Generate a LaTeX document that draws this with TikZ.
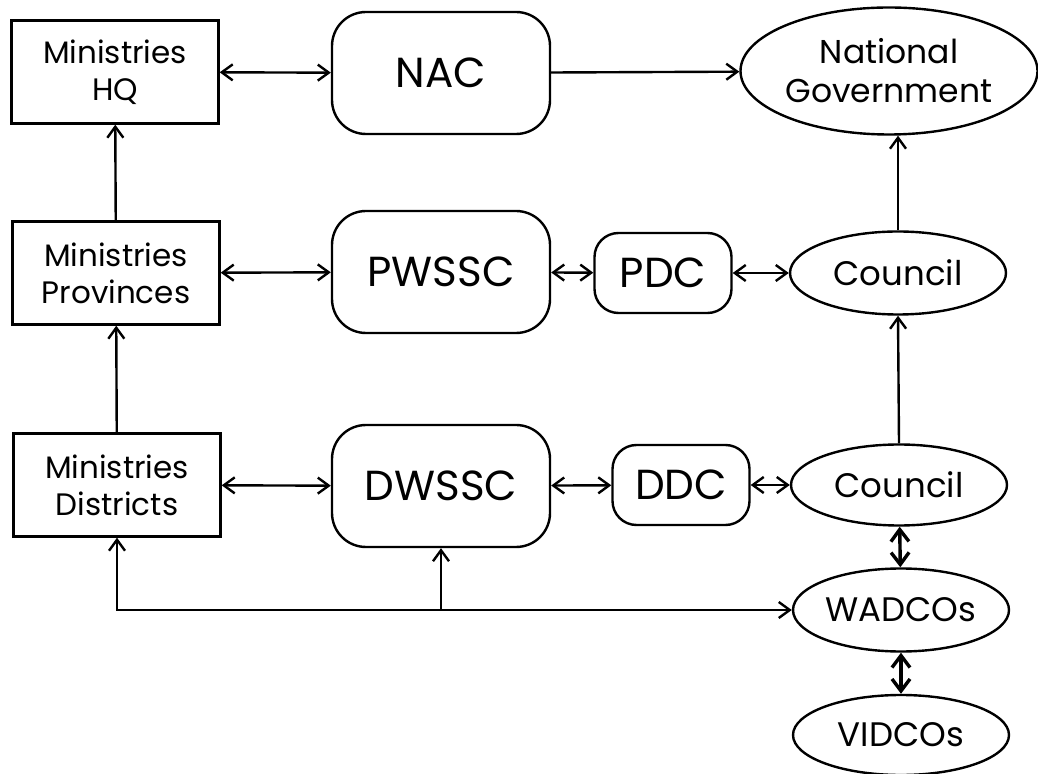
\documentclass[tikz,border=0pt]{standalone}
\usepackage{fontspec}
\setmainfont{Poppins}
\usetikzlibrary{positioning, arrows.meta, shapes.geometric}

\begin{document}
\begin{tikzpicture}[
    x=0.5pt, y=-0.5pt,
    every node/.style={align=center, line width=1.2pt, inner sep=0pt},
    minbox/.style={draw, rectangle, minimum width=103.5pt, minimum height=51.5pt, font=\fontsize{15.5}{18.5}\selectfont},
    cmtbox/.style={draw, rectangle, rounded corners=17pt, minimum width=109pt, minimum height=61pt, font=\fontsize{21}{24}\selectfont},
    devbox/.style={draw, rectangle, rounded corners=12pt, minimum width=68.5pt, minimum height=40pt, font=\fontsize{21}{24}\selectfont},
    govell/.style={draw, ellipse, minimum width=108pt, minimum height=41.5pt, font=\fontsize{17}{20}\selectfont},
    link/.style={line width=1.2pt, -{Straight Barb[length=5.5pt, width=8pt]}},
    duallink/.style={line width=1.2pt, {Straight Barb[length=5.5pt, width=8pt]}-{Straight Barb[length=5.5pt, width=8pt]}},
    heavylink/.style={line width=1.7pt, {Straight Barb[length=6pt, width=9pt]}-{Straight Barb[length=6pt, width=9pt]}}
]
\useasboundingbox (0,0) rectangle (1038,774);

% ============================
% Ministries (left column)
% ============================
\node[minbox] (hq)   at (115, 72)  {Ministries\\HQ};
\node[minbox] (prov) at (116, 273) {Ministries\\Provinces};
\node[minbox] (dist) at (117, 485) {Ministries\\Districts};

% ============================
% Committees (middle)
% ============================
\node[cmtbox] (nac)   at (441, 73)  {NAC};
\node[cmtbox] (pwssc) at (441, 272) {PWSSC};
\node[cmtbox] (dwssc) at (441, 486) {DWSSC};
\node[devbox] (pdc)   at (663, 273) {PDC};
\node[devbox] (ddc)   at (681, 485) {DDC};

% ============================
% Government & councils (right)
% ============================
\node[govell, minimum width=148.5pt, minimum height=63.5pt, font=\fontsize{16.5}{19.5}\selectfont] (natgov) at (889, 71) {National\\Government};
\node[govell] (pcouncil) at (898, 273) {Council};
\node[govell, minimum height=40.5pt] (dcouncil) at (899, 485) {Council};
\node[govell] (wadco) at (901, 610) {WADCOs};
\node[govell, minimum height=40pt] (vidco) at (901, 735) {VIDCOs};

% Horizontal links
\draw[duallink] (hq) -- (nac);
\draw[link] (nac) -- (natgov);
\draw[duallink] (prov) -- (pwssc);
\draw[duallink] (pwssc) -- (pdc);
\draw[duallink] (pdc) -- (pcouncil);
\draw[duallink] (dist) -- (dwssc);
\draw[duallink] (dwssc) -- (ddc);
\draw[duallink] (ddc) -- (dcouncil);

% Vertical links
\draw[link] (prov) -- (hq);
\draw[link] (dist) -- (prov);
\draw[link] (pcouncil.north) -- (pcouncil.north |- natgov.south);
\draw[link] (dcouncil.north) -- (pcouncil.south);
\draw[heavylink] (dcouncil) -- (wadco);
\draw[heavylink] (wadco) -- (vidco);

% WADCOs feedback to districts
\coordinate (jn) at (dwssc.south |- wadco.west);
\draw[duallink] (dist.south) |- (wadco.west);
\draw[link] (jn) -- (dwssc.south);

\end{tikzpicture}
\end{document}
